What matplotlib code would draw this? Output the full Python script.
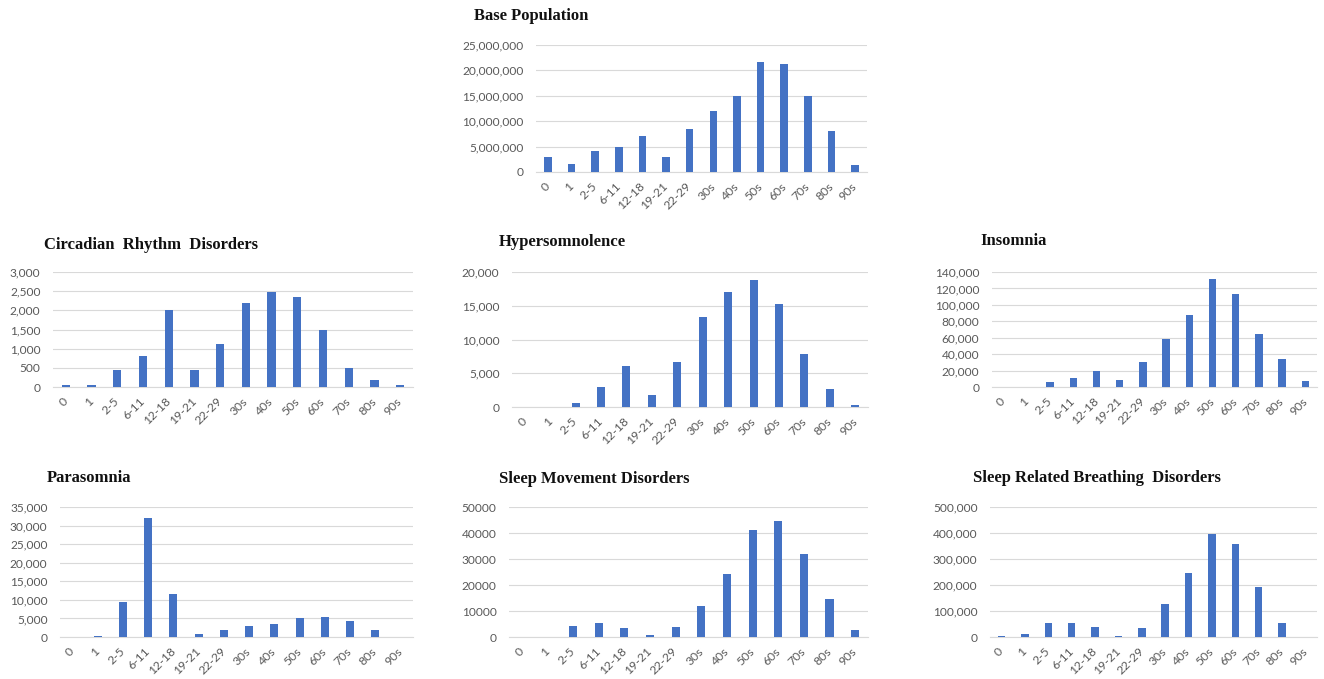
import numpy as np
import matplotlib.pyplot as plt
from matplotlib.ticker import FuncFormatter, MultipleLocator

# Age groups shared by every panel
ages = ['0', '1', '2-5', '6-11', '12-18', '19-21', '22-29', '30s', '40s',
        '50s', '60s', '70s', '80s', '90s']

# Counts per age group
base_population = [2900000, 1600000, 4200000, 5000000, 7000000, 2900000, 8500000,
                   12000000, 15000000, 21600000, 21300000, 15000000, 8100000, 1400000]
circadian = [40, 60, 440, 800, 2020, 440, 1130, 2180, 2480, 2360, 1480, 500, 180, 40]
hypersomnolence = [0, 0, 650, 2950, 6100, 1800, 6600, 13300, 17000, 18800, 15200,
                   7900, 2600, 250]
insomnia = [0, 0, 5500, 11000, 19000, 8500, 31000, 59000, 88000, 132000, 113000,
            64000, 33500, 7000]
parasomnia = [0, 400, 9500, 32000, 11500, 900, 1800, 3000, 3600, 5100, 5400,
              4400, 1800, 0]
movement = [0, 0, 4200, 5500, 3400, 900, 3800, 11800, 24300, 41200, 44600,
            31900, 14800, 2600]
breathing = [5000, 10000, 55000, 55000, 38000, 5000, 33000, 127000, 248000,
             395000, 357000, 193000, 55000, 0]

W, H = 1324, 679
BLUE = '#4472C4'
GRID = '#D9D9D9'
LABEL = '#595959'

fig = plt.figure(figsize=(W / 100, H / 100), dpi=100)


def panel(values, title, box, title_xy, ymax, step, commas=True):
    # box is (left, top, right, bottom) of the plot area in pixels
    l, t, r, b = box
    ax = fig.add_axes([l / W, 1 - b / H, (r - l) / W, (b - t) / H])
    x = np.arange(len(ages))
    ax.bar(x, values, width=0.32, color=BLUE, zorder=3)
    ax.set_xlim(-0.5, len(ages) - 0.5)
    ax.set_ylim(0, ymax)
    ax.yaxis.set_major_locator(MultipleLocator(step))
    if commas:
        ax.yaxis.set_major_formatter(FuncFormatter(lambda v, p: f'{int(v):,}'))
    else:
        ax.yaxis.set_major_formatter(FuncFormatter(lambda v, p: f'{int(v)}'))
    ax.yaxis.grid(True, color=GRID, linewidth=0.8, zorder=0)
    ax.set_axisbelow(True)
    for s in ['top', 'right', 'left']:
        ax.spines[s].set_visible(False)
    ax.spines['bottom'].set_color(GRID)
    ax.spines['bottom'].set_linewidth(0.8)
    ax.set_xticks(x)
    ax.set_xticklabels(ages, rotation=45, ha='right', va='center',
                       rotation_mode='anchor')
    ax.tick_params(axis='x', length=0, pad=9, labelsize=8.8, labelcolor=LABEL)
    ax.tick_params(axis='y', length=0, pad=9, labelsize=8.6, labelcolor=LABEL)
    for lab in ax.get_xticklabels() + ax.get_yticklabels():
        lab.set_family('Lato')
    ax.patch.set_alpha(0)
    fig.text(title_xy[0] / W, 1 - title_xy[1] / H, title, family='Liberation Serif',
             fontweight='bold', fontsize=12, ha='left', va='center', color='#111111')
    return ax


panel(base_population, 'Base Population', (536, 45, 867, 172), (474, 16),
      25000000, 5000000)
panel(circadian, 'Circadian  Rhythm  Disorders', (53, 272, 413, 387), (44, 245),
      3000, 500)
panel(hypersomnolence, 'Hypersomnolence', (512, 272, 868, 407), (499, 242),
      20000, 5000)
panel(insomnia, 'Insomnia', (992, 272, 1317, 387), (980, 241),
      140000, 20000)
panel(parasomnia, 'Parasomnia', (60, 507, 413, 637), (47, 478),
      35000, 5000)
panel(movement, 'Sleep Movement Disorders', (509, 507, 868, 637), (499, 479),
      50000, 10000, commas=False)
panel(breathing, 'Sleep Related Breathing  Disorders', (990, 507, 1317, 637), (973, 478),
      500000, 100000)

fig.savefig('out.png', dpi=100, facecolor='white')
